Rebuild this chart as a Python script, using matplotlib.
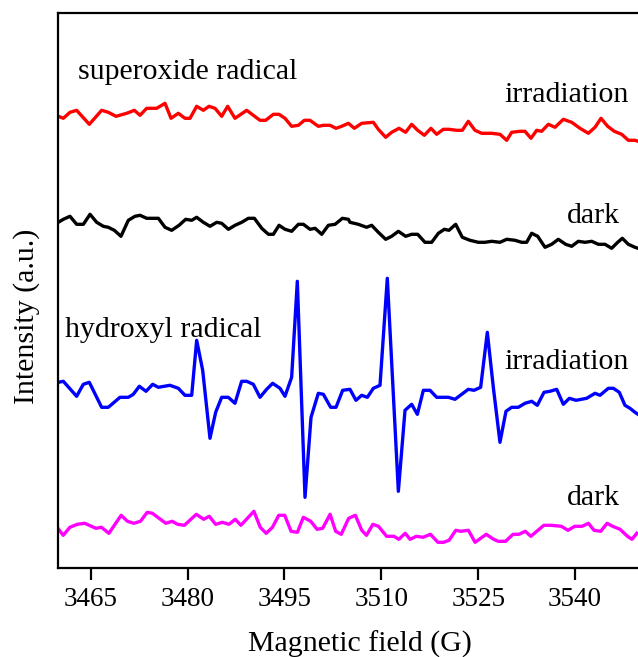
import matplotlib
matplotlib.use("Agg")
import matplotlib.pyplot as plt

plt.rcParams['font.family'] = ['Liberation Serif', 'DejaVu Serif']

# magnetic field (G) and intensity (a.u.)
sup_irr_field = [3460.0, 3460.78, 3461.81, 3462.84, 3464.80, 3466.71, 3467.74, 3468.93, 3470.58, 3471.77,
                 3472.65, 3473.68, 3475.23, 3476.52, 3477.45, 3478.58, 3479.61, 3480.39, 3481.42, 3482.45,
                 3483.33, 3484.26, 3485.29, 3486.22, 3487.35, 3489.16, 3491.22, 3492.10, 3493.29, 3494.16,
                 3495.09, 3496.12, 3497.16, 3498.09, 3498.96, 3500.25, 3501.03, 3502.06, 3502.99, 3503.87,
                 3504.90, 3505.83, 3506.96, 3508.77, 3509.54, 3510.68, 3511.60, 3512.74, 3513.77, 3514.70,
                 3515.63, 3516.66, 3517.69, 3518.57, 3519.60, 3520.48, 3521.67, 3522.54, 3523.47, 3524.50,
                 3525.54, 3527.08, 3528.37, 3529.41, 3530.18, 3531.47, 3532.24, 3533.17, 3534.05, 3534.82,
                 3535.86, 3536.89, 3538.18, 3539.47, 3540.76, 3542.05, 3543.08, 3544.01, 3545.04, 3546.07,
                 3547.21, 3548.24, 3549.27, 3549.74]
sup_irr = [452, 450, 456, 458, 444, 458, 456, 452, 455, 458,
           453, 460, 460, 465, 450, 455, 450, 450, 462, 458,
           462, 460, 452, 462, 450, 458, 448, 448, 454, 454,
           450, 442, 443, 448, 448, 442, 443, 443, 440, 442,
           445, 440, 445, 446, 439, 431, 436, 440, 436, 444,
           438, 433, 440, 434, 439, 439, 438, 438, 447, 438,
           435, 435, 434, 428, 436, 437, 437, 430, 438, 437,
           444, 441, 449, 446, 440, 435, 441, 450, 442, 437,
           434, 428, 428, 427]

sup_dark_field = [3460.0, 3460.78, 3461.81, 3462.84, 3463.88, 3464.91, 3465.94, 3466.97, 3467.74, 3468.67,
                  3469.70, 3470.84, 3471.87, 3472.65, 3473.68, 3475.49, 3476.52, 3477.55, 3478.69, 3479.72,
                  3480.65, 3481.42, 3482.45, 3483.49, 3484.52, 3485.29, 3486.33, 3487.36, 3488.39, 3489.42,
                  3490.35, 3491.49, 3492.52, 3493.29, 3494.17, 3495.10, 3496.13, 3497.16, 3497.94, 3498.97,
                  3499.75, 3500.78, 3501.81, 3502.85, 3503.98, 3504.91, 3505.15, 3506.44, 3507.73, 3508.51,
                  3509.54, 3510.68, 3511.60, 3512.64, 3513.77, 3514.70, 3515.63, 3516.76, 3517.80, 3518.83,
                  3519.76, 3520.48, 3521.51, 3522.54, 3523.73, 3525.02, 3526.05, 3527.09, 3528.37, 3529.41,
                  3530.70, 3531.73, 3532.50, 3533.28, 3534.21, 3535.34, 3536.37, 3537.40, 3538.54, 3539.47,
                  3540.50, 3541.53, 3542.57, 3543.60, 3544.63, 3545.66, 3546.59, 3547.31, 3548.24, 3549.27,
                  3549.74]
sup_dark = [346, 349, 352, 344, 344, 354, 346, 342, 341, 338,
            332, 348, 352, 353, 350, 350, 341, 338, 343, 349,
            348, 351, 346, 342, 346, 345, 339, 343, 346, 350,
            350, 340, 334, 334, 343, 339, 337, 344, 344, 339,
            340, 334, 343, 344, 350, 349, 346, 344, 341, 343,
            336, 329, 332, 337, 332, 334, 334, 326, 326, 335,
            339, 338, 344, 331, 328, 326, 326, 327, 326, 329,
            328, 326, 326, 335, 332, 321, 324, 329, 324, 322,
            327, 326, 327, 324, 324, 320, 326, 330, 324, 321,
            320]

hyd_irr_field = [3460.0, 3460.78, 3462.84, 3463.87, 3464.80, 3466.71, 3467.74, 3469.55, 3470.84, 3471.61,
                 3472.54, 3473.58, 3474.61, 3475.48, 3477.29, 3478.58, 3479.61, 3480.65, 3481.42, 3482.35,
                 3483.48, 3484.36, 3485.29, 3486.32, 3487.35, 3488.38, 3489.16, 3490.19, 3491.22, 3492.25,
                 3493.18, 3494.32, 3495.09, 3496.12, 3497.00, 3498.19, 3499.12, 3500.25, 3501.03, 3502.16,
                 3502.99, 3504.02, 3505.15, 3506.08, 3506.96, 3507.84, 3508.77, 3509.80, 3510.93, 3512.64,
                 3513.67, 3514.70, 3515.58, 3516.51, 3517.54, 3518.57, 3520.38, 3521.41, 3522.44, 3523.47,
                 3524.35, 3525.38, 3526.41, 3527.34, 3528.37, 3529.30, 3530.18, 3531.21, 3532.24, 3533.28,
                 3534.15, 3535.19, 3536.11, 3537.15, 3538.18, 3539.11, 3540.14, 3541.79, 3543.08, 3543.85,
                 3545.14, 3545.92, 3546.84, 3547.72, 3548.50, 3549.27, 3549.74]
hyd_irr = [186, 187, 172, 184, 186, 161, 161, 171, 171, 174,
           182, 177, 184, 181, 183, 180, 173, 173, 228, 198,
           130, 156, 171, 171, 165, 187, 187, 184, 171, 179,
           185, 180, 172, 191, 287, 71, 151, 175, 174, 161,
           161, 178, 179, 168, 173, 171, 180, 183, 290, 77,
           158, 164, 154, 178, 178, 171, 171, 169, 174, 179,
           178, 181, 236, 181, 126, 157, 161, 161, 165, 167,
           163, 176, 177, 179, 164, 170, 168, 170, 175, 173,
           180, 180, 176, 163, 160, 156, 154]

hyd_dark_field = [3460.06, 3460.76, 3461.79, 3462.94, 3464.09, 3465.13, 3465.82, 3466.68, 3467.83, 3469.73,
                  3470.71, 3471.69, 3472.72, 3473.76, 3474.57, 3476.64, 3477.62, 3478.48, 3479.52, 3481.36,
                  3482.51, 3483.37, 3484.35, 3485.39, 3486.42, 3487.40, 3488.26, 3490.28, 3491.26, 3492.18,
                  3493.15, 3494.13, 3495.05, 3496.03, 3497.01, 3497.93, 3499.08, 3500.06, 3500.92, 3502.07,
                  3502.94, 3503.80, 3504.95, 3505.99, 3506.97, 3507.71, 3508.69, 3509.56, 3510.82, 3511.97,
                  3512.72, 3513.70, 3514.45, 3515.43, 3516.46, 3517.61, 3518.76, 3519.63, 3520.49, 3521.53,
                  3522.33, 3523.48, 3524.52, 3526.24, 3527.40, 3528.09, 3529.24, 3530.39, 3531.31, 3532.29,
                  3533.15, 3535.16, 3536.32, 3537.87, 3538.90, 3539.94, 3541.09, 3542.07, 3542.93, 3543.97,
                  3544.95, 3545.81, 3546.96, 3548.11, 3548.80, 3549.55]
hyd_dark = [39, 33, 41, 44, 45, 42, 40, 41, 35, 53,
            47, 45, 47, 56, 55, 45, 47, 44, 43, 54,
            49, 52, 44, 46, 44, 49, 43, 57, 41, 35,
            41, 53, 53, 37, 36, 51, 47, 39, 40, 54,
            37, 34, 50, 53, 38, 33, 44, 42, 32, 32,
            29, 35, 29, 32, 31, 34, 26, 26, 28, 38,
            37, 38, 26, 34, 29, 27, 27, 34, 34, 37,
            32, 43, 43, 42, 38, 42, 42, 45, 38, 37,
            45, 42, 39, 32, 29, 35]

field_ticks = [3465, 3480, 3495, 3510, 3525, 3540]

W, H = 638, 657
fig = plt.figure(figsize=(W / 100, H / 100), dpi=100)
ax = fig.add_axes([58.3 / W, 1 - 568.3 / H, 581.4 / W, 555 / H])

lw = 2.4
ax.plot(sup_irr_field, sup_irr, color='#ff0000', lw=lw)
ax.plot(sup_dark_field, sup_dark, color='black', lw=lw)
ax.plot(hyd_irr_field, hyd_irr, color='#0000ff', lw=lw)
ax.plot(hyd_dark_field, hyd_dark, color='#ff00ff', lw=lw)

ax.set_xlim(3460, 3550)
ax.set_ylim(0, 555)
ax.set_xticks(field_ticks)
ax.set_yticks([])
ax.tick_params(axis='x', direction='out', length=8.5, width=1.6, labelsize=19.5, pad=5)
for s in ax.spines.values():
    s.set_linewidth(1.6)

fs = 21.5
ax.text(3463.0, 568 - 79, 'superoxide radical', fontsize=fs, va='baseline')
ax.text(3529.1, 568 - 102, 'irradiation', fontsize=fs, va='baseline')
ax.text(3538.8, 568 - 223, 'dark', fontsize=fs, va='baseline')
ax.text(3461.0, 568 - 337, 'hydroxyl radical', fontsize=fs, va='baseline')
ax.text(3529.1, 568 - 369, 'irradiation', fontsize=fs, va='baseline')
ax.text(3538.8, 568 - 505, 'dark', fontsize=fs, va='baseline')

fig.text(360 / W, 1 - 644 / H, 'Magnetic field (G)', fontsize=fs, ha='center', va='center')
fig.text(27 / W, 1 - 316 / H, 'Intensity (a.u.)', fontsize=fs, ha='center', va='center', rotation=90)

fig.savefig('out.png', dpi=100)
